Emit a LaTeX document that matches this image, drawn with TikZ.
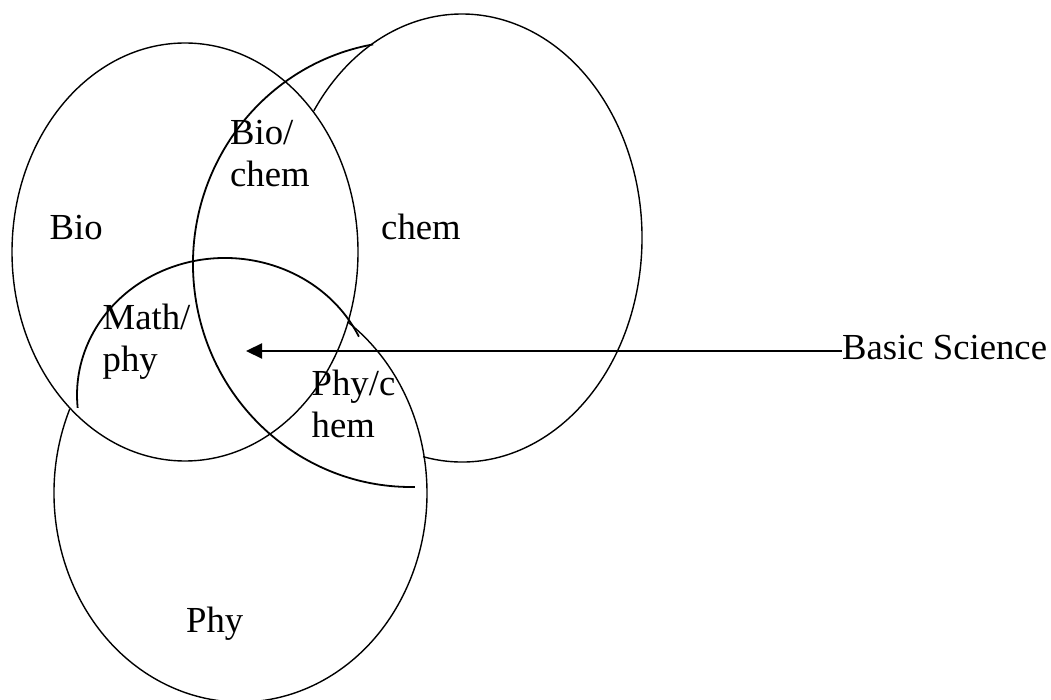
\documentclass[tikz,border=0pt]{standalone}
\usepackage{fontspec}
\setmainfont{Liberation Serif}
\usetikzlibrary{arrows.meta}
\begin{document}
\begin{tikzpicture}[x=1pt,y=1pt,
  shape line/.style={line width=1.4pt},
  arc line/.style={line width=1.8pt},
  lbl/.style={inner sep=0pt, anchor=base west, font=\fontsize{36.7}{42}\selectfont},
  pointer/.style={line width=2.2pt, -{Triangle[length=16pt,width=15pt]}}]
\useasboundingbox (0,0) rectangle (1051,699);
% Bio ellipse
\draw[shape line] (185,447) ellipse[x radius=173, y radius=209];
% chem ellipse (visible part)
\draw[shape line] (462,461) ++(-102.5:180 and 224) arc[start angle=-102.5, end angle=145.4, x radius=180, y radius=224];
% Bio/chem arc
\draw[arc line] (411,435) ++(100:218 and 223) arc[start angle=100, end angle=271, x radius=218, y radius=223];
% Math/phy arc
\draw[arc line] (225,304) ++(25.2:148 and 137) arc[start angle=25.2, end angle=185.4, x radius=148, y radius=137];
% Phy ellipse (visible part)
\draw[shape line] (240.5,206) ++(156.3:186.5 and 209) arc[start angle=156.3, end angle=414.8, x radius=186.5, y radius=209];
% labels
\node[lbl] (bio) at (49.5,459) {Bio};
\node[lbl] (biochem) at (230,554) {\begin{tabular}[t]{@{}l@{}}Bio/\\chem\end{tabular}};
\node[lbl] (chem) at (381,459) {chem};
\node[lbl] (mathphy) at (102.5,369) {\begin{tabular}[t]{@{}l@{}}Math/\\phy\end{tabular}};
\node[lbl] (phychem) at (311.5,303) {\begin{tabular}[t]{@{}l@{}}Phy/c\\hem\end{tabular}};
\node[lbl] (phy) at (186,67) {Phy};
\node[lbl] (bs) at (842,339) {Basic Science};
\coordinate (tip) at (246,348);
\draw[pointer] (bs.west |- tip) -- (tip);
\end{tikzpicture}
\end{document}
